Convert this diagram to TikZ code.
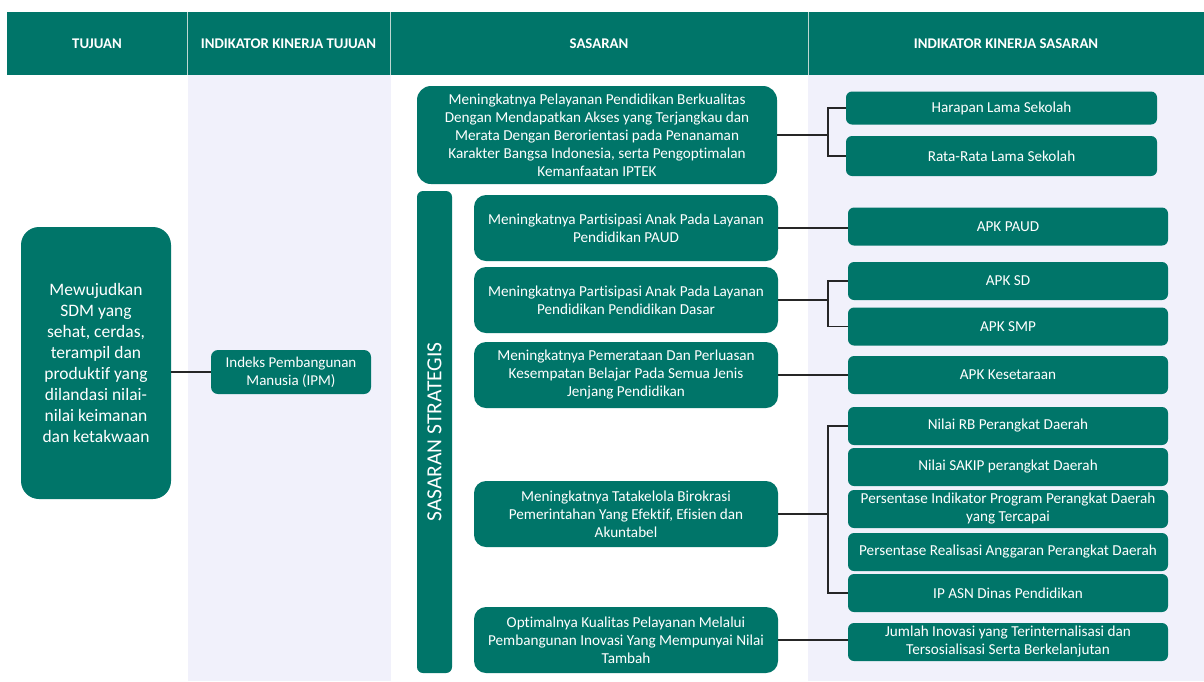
\documentclass[tikz,border=0pt]{standalone}
\usepackage{fontspec}
\setmainfont{Carlito}[Ligatures={NoCommon}]
\definecolor{tealbox}{RGB}{0,117,105}
\definecolor{lav}{RGB}{241,241,251}
\definecolor{divline}{RGB}{190,215,210}
\begin{document}
\begin{tikzpicture}[x=1pt,y=-1pt,
  box/.style={fill=tealbox, text=white, inner sep=0pt, align=center, font=\fontsize{15.2}{18}\selectfont},
  sbox/.style={box, rounded corners=12pt, minimum width=304pt, minimum height=66pt},
  ibox/.style={box, rounded corners=6pt, minimum width=320pt, minimum height=38pt},
  hdr/.style={text=white, font=\fontsize{14.8}{17}\selectfont\bfseries},
  conn/.style={draw=black!85, line width=1.1pt}]
\useasboundingbox (0,0) rectangle (1204,681);
\fill[white] (0,0) rectangle (1204,681);
\fill[lav] (188,75) rectangle (391,681);
\fill[lav] (808,75) rectangle (1204,681);
\fill[tealbox] (7,12) rectangle (1204,75);
\draw[divline, line width=1pt] (187.5,12) -- (187.5,75) (390.5,12) -- (390.5,75) (808.5,12) -- (808.5,75);
% header
\node[hdr] (h1) at (97,44) {TUJUAN};
\node[hdr] (h2) at (288.5,44) {INDIKATOR KINERJA TUJUAN};
\node[hdr] (h3) at (599,44) {SASARAN};
\node[hdr] (h4) at (1006,44) {INDIKATOR KINERJA SASARAN};
% tujuan
\node[box, rounded corners=18pt, minimum width=150pt, minimum height=272pt, font=\fontsize{17.5}{21}\selectfont] (tuj) at (96,363)
 {Mewujudkan\\SDM yang\\sehat, cerdas,\\terampil dan\\produktif yang\\dilandasi nilai-\\nilai keimanan\\dan ketakwaan};
\node[box, rounded corners=7pt, minimum width=160pt, minimum height=44pt, font=\fontsize{15}{18}\selectfont] (ipm) at (291,372)
 {Indeks Pembangunan\\Manusia (IPM)};
% sasaran
\node[box, rounded corners=14pt, minimum width=360pt, minimum height=98pt] (s1) at (597,135)
 {Meningkatnya Pelayanan Pendidikan Berkualitas\\Dengan Mendapatkan Akses yang Terjangkau dan\\Merata Dengan Berorientasi pada Penanaman\\Karakter Bangsa Indonesia, serta Pengoptimalan\\Kemanfaatan IPTEK};
\node[box, rounded corners=6pt, minimum width=35pt, minimum height=482pt] (bar) at (434.5,432) {};
\node[rotate=90, text=white, inner sep=0pt, font=\fontsize{21.5}{24}\selectfont] (barlabel) at (bar.center) {SASARAN STRATEGIS};
\node[sbox] (paud) at (626,228) {Meningkatnya Partisipasi Anak Pada Layanan\\Pendidikan PAUD};
\node[sbox] (dasar) at (626,300) {Meningkatnya Partisipasi Anak Pada Layanan\\Pendidikan Pendidikan Dasar};
\node[sbox] (pem) at (626,375) {Meningkatnya Pemerataan Dan Perluasan\\Kesempatan Belajar Pada Semua Jenis\\Jenjang Pendidikan};
\node[sbox] (tata) at (626,514) {Meningkatnya Tatakelola Birokrasi\\Pemerintahan Yang Efektif, Efisien dan\\Akuntabel};
\node[sbox] (opt) at (626,640) {Optimalnya Kualitas Pelayanan Melalui\\Pembangunan Inovasi Yang Mempunyai Nilai\\Tambah};
% indikator sasaran
\node[ibox, minimum width=311pt, minimum height=33pt] (har) at (1001.5,108) {Harapan Lama Sekolah};
\node[ibox, minimum width=311pt, minimum height=40pt] (rat) at (1001.5,156) {Rata-Rata Lama Sekolah};
\node[ibox] (apaud) at (1008,226.5) {APK PAUD};
\node[ibox] (asd) at (1008,281) {APK SD};
\node[ibox] (asmp) at (1008,326.5) {APK SMP};
\node[ibox] (akes) at (1008,375) {APK Kesetaraan};
\node[ibox] (rb) at (1008,426) {Nilai RB Perangkat Daerah};
\node[ibox] (sakip) at (1008,467) {Nilai SAKIP perangkat Daerah};
\node[ibox] (pind) at (1008,509) {Persentase Indikator Program Perangkat Daerah\\yang Tercapai};
\node[ibox] (preal) at (1008,552) {Persentase Realisasi Anggaran Perangkat Daerah};
\node[ibox] (ipasn) at (1008,593) {IP ASN Dinas Pendidikan};
\node[ibox] (jml) at (1008,642) {Jumlah Inovasi yang Terinternalisasi dan\\Tersosialisasi Serta Berkelanjutan};
% connectors
\coordinate (b1) at (828,135);
\coordinate (b2) at (828,300);
\coordinate (b3) at (828,514);
\draw[conn] (ipm.west -| tuj.east) -- (ipm.west);
\draw[conn] (s1.east) -- (b1);
\draw[conn] (har.west) -| (b1) |- (rat.west);
\draw[conn] (paud.east) -- (paud.east -| apaud.west);
\draw[conn] (dasar.east) -- (b2);
\draw[conn] (asd.west) -| (b2) |- (asmp.west);
\draw[conn] (pem.east) -- (pem.east -| akes.west);
\draw[conn] (tata.east) -- (b3);
\draw[conn] (rb.west) -| (b3) |- (ipasn.west);
\draw[conn] (opt.east) -- (opt.east -| jml.west);
\end{tikzpicture}
\end{document}
